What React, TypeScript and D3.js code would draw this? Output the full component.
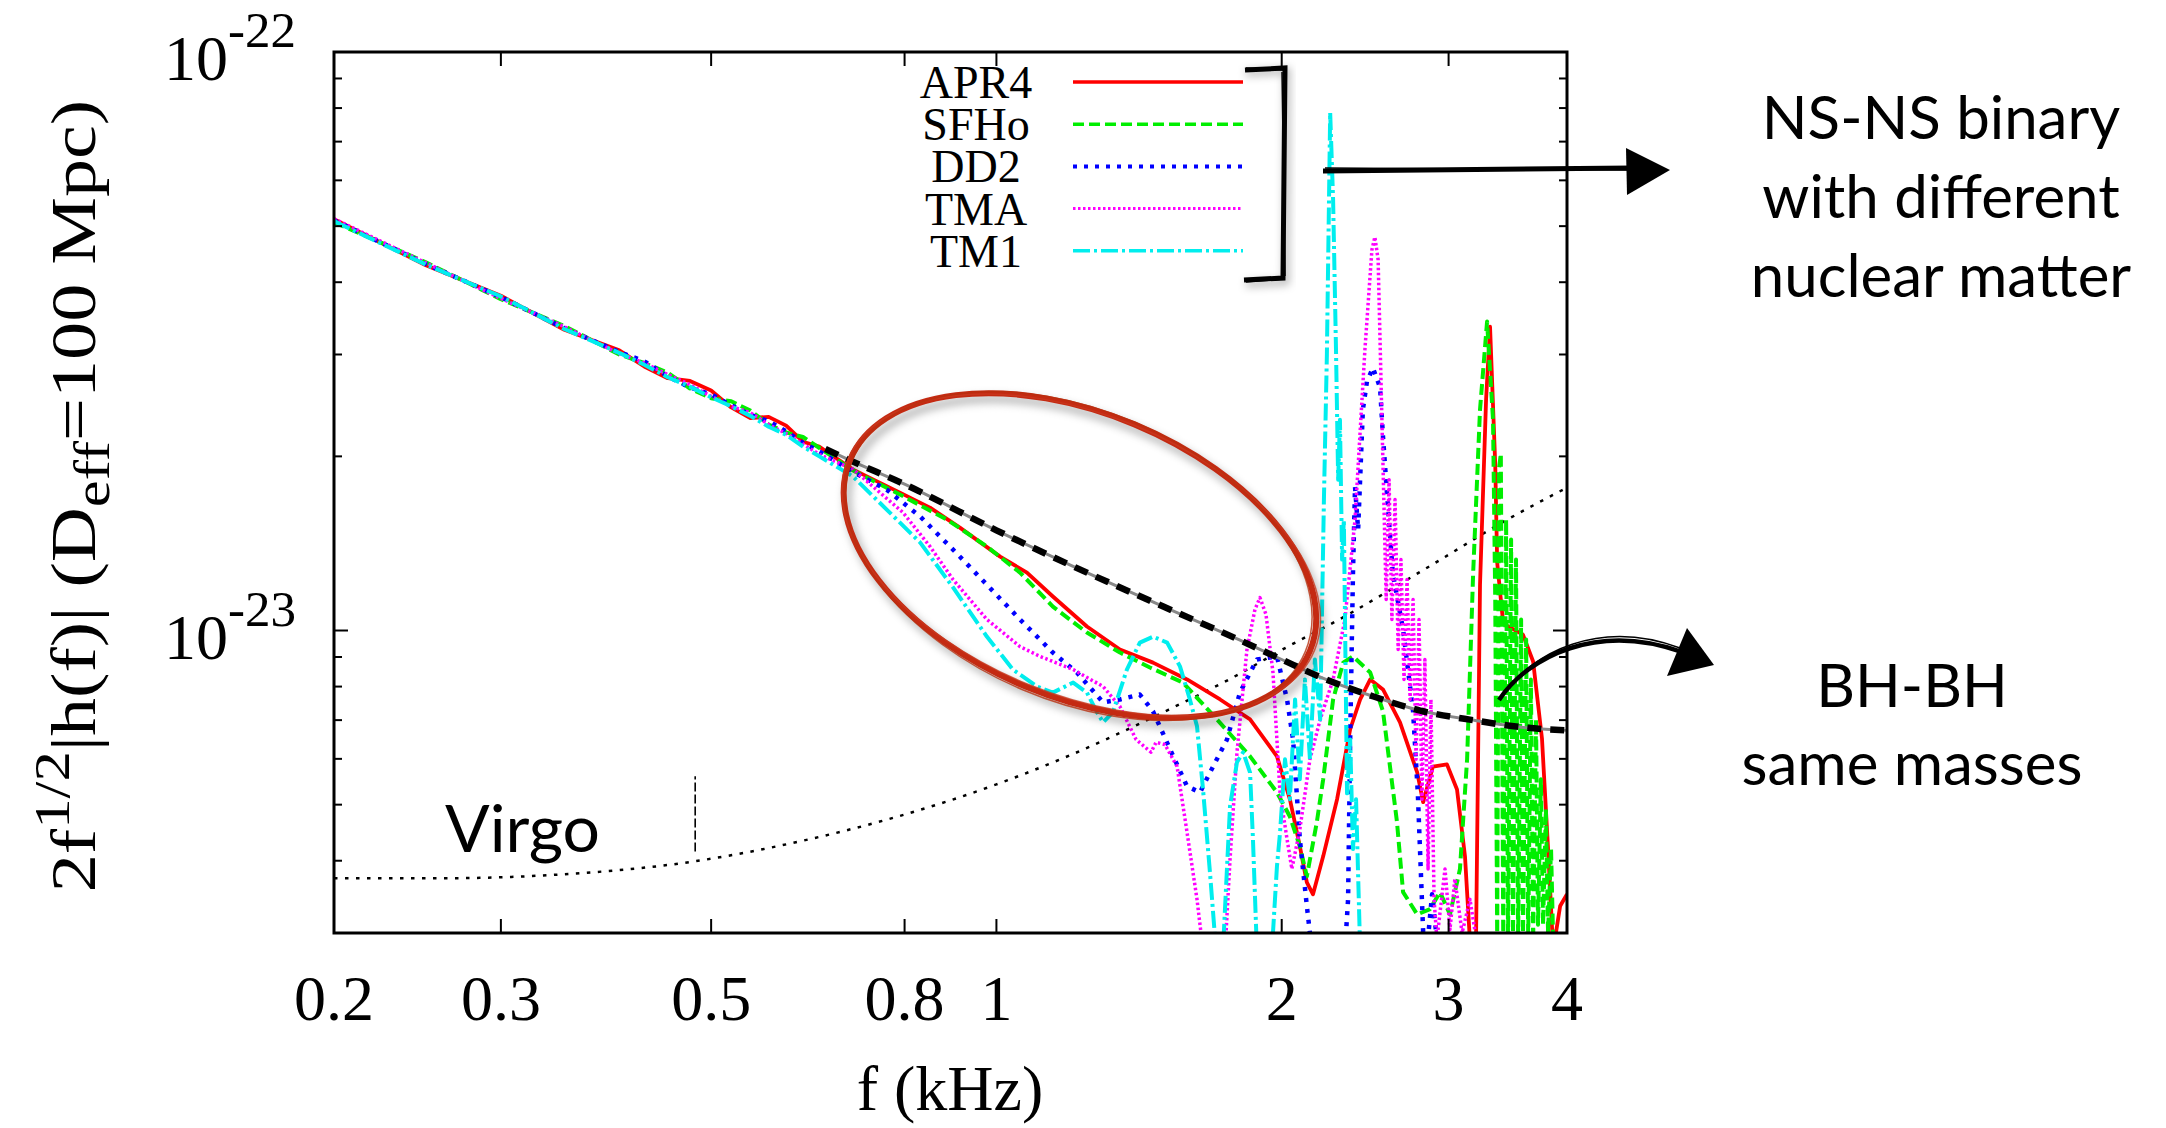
import React from "react";
import * as d3 from "d3";

// ---------------- data (f in kHz, amplitude in units of 1e-23) ----------------
const xTickValues = [0.2, 0.3, 0.5, 0.8, 1, 2, 3, 4];
const xTickLabels = ["0.2", "0.3", "0.5", "0.8", "1", "2", "3", "4"];
const yMajorTicks = [10, 1];
const yMajorExponents = ["-22", "-23"];
const yMinorTicks = [9, 8, 7, 6, 5, 4, 3, 2, 0.9, 0.8, 0.7, 0.6, 0.5, 0.4];

const seriesNames = ["APR4", "SFHo", "DD2", "TMA", "TM1"];

const APR4: [number, number][] = [
  [0.2, 5.14], [0.25, 4.28], [0.3, 3.79], [0.35, 3.31], [0.4, 3.05], [0.425, 2.86], [0.45, 2.73], [0.475, 2.7], [0.5, 2.6],
  [0.525, 2.43], [0.55, 2.33], [0.575, 2.34], [0.6, 2.26], [0.625, 2.12], [0.65, 2.08],
  [0.706, 1.897], [0.791, 1.731], [0.851, 1.631], [0.915, 1.506], [1.009, 1.342], [1.077, 1.259], [1.147, 1.145], [1.246, 1.016],
  [1.35, 0.927], [1.463, 0.88], [1.589, 0.823], [1.722, 0.76], [1.852, 0.702], [1.977, 0.606], [2.04, 0.511], [2.09, 0.424],
  [2.126, 0.367], [2.158, 0.35], [2.212, 0.407], [2.288, 0.511], [2.362, 0.675], [2.42, 0.76], [2.48, 0.823], [2.558, 0.791],
  [2.666, 0.694], [2.78, 0.568], [2.82, 0.505], [2.888, 0.582], [2.988, 0.587], [3.062, 0.531], [3.122, 0.407], [3.16, 0.29],
  [3.206, 0.28], [3.238, 1.2], [3.286, 2.505], [3.318, 3.35], [3.36, 1.935], [3.376, 1.31], [3.426, 1.028], [3.594, 0.984],
  [3.684, 0.884], [3.764, 0.651], [3.82, 0.42], [3.868, 0.28], [3.934, 0.334], [4.0, 0.35],
];

const SFHo: [number, number][] = [
  [0.2, 5.08], [0.25, 4.33], [0.3, 3.74], [0.35, 3.36], [0.4, 3.0], [0.425, 2.9], [0.45, 2.79], [0.475, 2.62], [0.5, 2.52],
  [0.525, 2.49], [0.55, 2.4], [0.575, 2.27], [0.6, 2.2], [0.625, 2.16], [0.65, 2.07],
  [0.706, 1.89], [0.791, 1.718], [0.887, 1.555], [0.977, 1.397], [1.059, 1.259], [1.147, 1.1], [1.246, 0.992], [1.35, 0.916],
  [1.452, 0.863], [1.573, 0.813], [1.709, 0.702], [1.852, 0.606], [1.977, 0.525], [2.04, 0.477], [2.09, 0.424], [2.126, 0.376],
  [2.178, 0.466], [2.212, 0.553], [2.266, 0.76], [2.322, 0.88], [2.378, 0.902], [2.48, 0.846], [2.558, 0.725], [2.646, 0.468],
  [2.686, 0.353], [2.78, 0.323], [2.868, 0.33], [2.938, 0.353], [3.01, 0.323], [3.084, 0.387], [3.138, 0.599], [3.184, 1.249],
  [3.238, 2.409], [3.294, 3.42], [3.342, 2.314], [3.36, 1.131], [3.376, 0.29], [3.39, 1.897], [3.406, 2.022], [3.426, 0.29],
  [3.45, 1.555], [3.466, 0.29], [3.492, 1.436], [3.508, 0.29], [3.534, 1.326], [3.552, 0.29], [3.578, 1.045], [3.594, 0.29],
  [3.622, 0.965], [3.64, 0.29], [3.664, 0.823], [3.684, 0.29], [3.71, 0.702], [3.728, 0.31], [3.754, 0.553], [3.774, 0.31],
  [3.8, 0.491], [3.82, 0.3], [3.848, 0.419], [3.868, 0.29], [3.894, 0.28],
];

const DD2: [number, number][] = [
  [0.2, 5.12], [0.25, 4.3], [0.3, 3.77], [0.35, 3.33], [0.4, 3.03], [0.425, 2.92], [0.45, 2.75], [0.475, 2.63], [0.5, 2.56],
  [0.525, 2.45], [0.55, 2.36], [0.575, 2.3], [0.6, 2.21], [0.625, 2.11], [0.651, 2.038],
  [0.706, 1.88], [0.766, 1.752], [0.831, 1.574], [0.9, 1.38], [0.977, 1.2], [1.059, 1.045], [1.147, 0.916], [1.216, 0.846],
  [1.296, 0.751], [1.35, 0.76], [1.417, 0.775], [1.463, 0.725], [1.525, 0.623], [1.589, 0.538], [1.64, 0.525], [1.68, 0.568],
  [1.751, 0.648], [1.807, 0.781], [1.883, 0.891], [1.977, 0.902], [2.026, 0.76], [2.056, 0.648], [2.09, 0.436], [2.126, 0.334],
  [2.152, 0.28], [2.332, 0.28], [2.35, 0.343], [2.362, 0.651], [2.378, 1.254], [2.39, 1.773], [2.408, 1.494], [2.436, 2.409],
  [2.46, 2.692], [2.496, 2.845], [2.54, 2.629], [2.558, 2.163], [2.582, 1.739], [2.62, 1.254], [2.686, 1.004], [2.752, 0.725],
  [2.784, 0.523], [2.82, 0.302], [2.846, 0.28], [2.882, 0.35], [2.924, 0.28],
];

const TMA: [number, number][] = [
  [0.2, 5.15], [0.25, 4.32], [0.3, 3.75], [0.35, 3.35], [0.4, 3.01], [0.425, 2.9], [0.45, 2.77], [0.475, 2.66], [0.5, 2.54],
  [0.525, 2.44], [0.55, 2.38], [0.575, 2.27], [0.6, 2.19], [0.625, 2.1], [0.651, 2.014],
  [0.706, 1.9], [0.741, 1.773], [0.797, 1.599], [0.851, 1.397], [0.9, 1.225], [0.977, 1.045], [1.059, 0.938], [1.112, 0.902],
  [1.205, 0.856], [1.296, 0.8], [1.35, 0.739], [1.404, 0.648], [1.456, 0.616], [1.474, 0.641], [1.506, 0.635], [1.551, 0.582],
  [1.589, 0.448], [1.628, 0.343], [1.652, 0.28], [1.743, 0.28], [1.764, 0.402], [1.794, 0.616], [1.838, 0.927], [1.874, 1.087],
  [1.897, 1.14], [1.925, 1.066], [1.958, 0.846], [1.992, 0.523], [2.026, 0.436], [2.05, 0.387], [2.09, 0.453], [2.142, 0.599],
  [2.196, 0.702], [2.266, 0.823], [2.332, 1.045], [2.39, 1.555], [2.448, 3.057], [2.49, 4.55], [2.508, 4.79], [2.528, 4.373],
  [2.558, 1.935], [2.578, 1.131], [2.596, 1.823], [2.614, 1.045], [2.634, 1.684], [2.654, 0.927], [2.672, 1.326], [2.692, 0.823],
  [2.712, 1.225], [2.732, 0.76], [2.752, 1.131], [2.772, 0.599], [2.792, 1.045], [2.812, 0.511], [2.832, 0.891], [2.854, 0.387],
  [2.874, 0.76], [2.896, 0.343], [2.916, 0.292], [2.974, 0.387], [3.01, 0.304], [3.046, 0.372], [3.1, 0.3], [3.16, 0.343], [3.222, 0.28],
];

const TM1: [number, number][] = [
  [0.2, 5.1], [0.25, 4.29], [0.3, 3.78], [0.35, 3.32], [0.4, 3.02], [0.425, 2.88], [0.45, 2.74], [0.475, 2.64], [0.5, 2.53],
  [0.525, 2.44], [0.55, 2.35], [0.575, 2.25], [0.6, 2.18], [0.625, 2.08], [0.651, 1.998],
  [0.706, 1.845], [0.766, 1.618], [0.831, 1.419], [0.9, 1.187], [0.977, 0.976], [1.041, 0.856], [1.104, 0.8], [1.147, 0.781],
  [1.205, 0.813], [1.246, 0.781], [1.277, 0.722], [1.296, 0.694], [1.327, 0.722], [1.373, 0.856], [1.417, 0.953], [1.463, 0.976],
  [1.514, 0.953], [1.562, 0.867], [1.6, 0.76], [1.628, 0.683], [1.652, 0.531], [1.68, 0.382], [1.705, 0.28], [1.734, 0.28],
  [1.764, 0.497], [1.794, 0.592], [1.821, 0.616], [1.852, 0.568], [1.865, 0.436], [1.883, 0.28], [1.953, 0.28], [1.977, 0.391],
  [1.992, 0.448], [2.016, 0.599], [2.04, 0.511], [2.066, 0.76], [2.09, 0.553], [2.116, 0.823], [2.142, 0.599], [2.168, 0.891],
  [2.196, 0.702], [2.216, 1.684], [2.232, 2.998], [2.25, 7.85], [2.266, 5.55], [2.282, 3.057], [2.294, 1.823], [2.304, 2.314],
  [2.316, 1.326], [2.326, 1.555], [2.344, 0.523], [2.362, 0.648], [2.378, 0.419], [2.396, 0.511], [2.42, 0.28],
];

const BHBH: [number, number][] = [
  [0.66, 2.06], [0.7, 1.97], [0.8, 1.79], [1.0, 1.49], [1.2, 1.295], [1.5, 1.1], [1.8, 0.965], [2.0, 0.891],
  [2.2, 0.83], [2.5, 0.769], [2.8, 0.727], [3.2, 0.699], [3.6, 0.68], [4.0, 0.672],
];

const VIRGO: [number, number][] = [
  [0.2, 0.373], [0.26, 0.373], [0.34, 0.378], [0.48, 0.399], [0.62, 0.432], [0.78, 0.475], [1.0, 0.542], [1.18, 0.603],
  [1.52, 0.73], [1.76, 0.823], [2.03, 0.938], [2.3, 1.045], [2.85, 1.285], [3.46, 1.555], [4.0, 1.766],
];

const virgoMarkerF = 0.481;
const virgoMarkerRange = [0.415, 0.56];
const ellipseCenter = [1.225, 1.348]; // f, amplitude

// ---------------- layout ----------------
const W = 2166;
const H = 1128;
const PL = 334, PR = 1567, PT = 52, PB = 933;

const styles: Record<string, { color: string; width: number; dash?: string }> = {
  APR4: { color: "#ff0000", width: 3.8 },
  SFHo: { color: "#00ee00", width: 4, dash: "11 5" },
  DD2: { color: "#0000ff", width: 4.5, dash: "4 7" },
  TMA: { color: "#ff00ff", width: 3.5, dash: "2.5 2.5" },
  TM1: { color: "#00eeee", width: 4, dash: "17 4 3 4" },
};
const seriesData: Record<string, [number, number][]> = { APR4, SFHo, DD2, TMA, TM1 };

const serif = "'Liberation Serif', 'Times New Roman', serif";
const sans = "Lato, 'Open Sans', sans-serif";

export default function App() {
  const x = d3.scaleLog().domain([0.2, 4]).range([PL, PR]);
  const y = d3.scaleLog().domain([0.3, 10]).range([PB, PT]);
  const line = d3
    .line<[number, number]>()
    .x((d) => x(d[0]))
    .y((d) => y(Math.max(d[1], 0.25)));
  const smooth = d3
    .line<[number, number]>()
    .x((d) => x(d[0]))
    .y((d) => y(d[1]))
    .curve(d3.curveMonotoneX);

  const ecx = x(ellipseCenter[0]);
  const ecy = y(ellipseCenter[1]);

  return (
    <svg
      width={W}
      height={H}
      style={{ position: "absolute", left: 0, top: 0, display: "block", background: "#fff" }}
    >
      <defs>
        <clipPath id="plotclip">
          <rect x={PL} y={PT} width={PR - PL} height={PB - PT} />
        </clipPath>
        <filter id="shadow" x="-20%" y="-20%" width="140%" height="140%">
          <feGaussianBlur stdDeviation="4" />
        </filter>
      </defs>
      <rect x={0} y={0} width={W} height={H} fill="#fff" />

      {/* data */}
      <g clipPath="url(#plotclip)">
        <path d={smooth(VIRGO) || ""} fill="none" stroke="#000" strokeWidth={2.5} strokeDasharray="3.5 7.5" />
        <line
          x1={x(virgoMarkerF)}
          x2={x(virgoMarkerF)}
          y1={y(virgoMarkerRange[0])}
          y2={y(virgoMarkerRange[1])}
          stroke="#000"
          strokeWidth={1.6}
          strokeDasharray="9 3"
        />
        {seriesNames.map((n) => (
          <path
            key={n}
            d={line(seriesData[n]) || ""}
            fill="none"
            stroke={styles[n].color}
            strokeWidth={styles[n].width}
            strokeDasharray={styles[n].dash}
            strokeLinejoin="round"
          />
        ))}
        <path d={smooth(BHBH) || ""} fill="none" stroke="#888" strokeWidth={3} />
        <path d={smooth(BHBH) || ""} fill="none" stroke="#000" strokeWidth={6.5} strokeDasharray="14 9" />
      </g>

      {/* frame */}
      <rect x={PL} y={PT} width={PR - PL} height={PB - PT} fill="none" stroke="#000" strokeWidth={3} />

      {/* x ticks */}
      {xTickValues.map((v, i) => (
        <g key={"xt" + i}>
          <line x1={x(v)} x2={x(v)} y1={PB} y2={PB - 14} stroke="#000" strokeWidth={2} />
          <line x1={x(v)} x2={x(v)} y1={PT} y2={PT + 14} stroke="#000" strokeWidth={2} />
          <text x={x(v)} y={1020} textAnchor="middle" fontFamily={serif} fontSize={64}>
            {xTickLabels[i]}
          </text>
        </g>
      ))}

      {/* y ticks */}
      {yMajorTicks.map((v, i) => (
        <g key={"ym" + i}>
          <line x1={PL} x2={PL + 14} y1={y(v)} y2={y(v)} stroke="#000" strokeWidth={2} />
          <line x1={PR} x2={PR - 14} y1={y(v)} y2={y(v)} stroke="#000" strokeWidth={2} />
          <text x={296} y={y(v) + 28} textAnchor="end" fontFamily={serif} fontSize={64}>
            10
            <tspan dy={-33} fontSize={51}>
              {yMajorExponents[i]}
            </tspan>
          </text>
        </g>
      ))}
      {yMinorTicks.map((v, i) => (
        <g key={"yn" + i}>
          <line x1={PL} x2={PL + 8} y1={y(v)} y2={y(v)} stroke="#000" strokeWidth={2} />
          <line x1={PR} x2={PR - 8} y1={y(v)} y2={y(v)} stroke="#000" strokeWidth={2} />
        </g>
      ))}

      {/* axis labels */}
      <text x={950} y={1110} textAnchor="middle" fontFamily={serif} fontSize={64}>
        f (kHz)
      </text>
      <text
        transform="translate(95,496) rotate(-90) scale(1.19,1)"
        textAnchor="middle"
        fontFamily={serif}
        fontSize={64}
      >
        {"2f"}
        <tspan dy={-26} fontSize={51}>
          {"1/2"}
        </tspan>
        <tspan dy={26}>{"|h(f)| (D"}</tspan>
        <tspan dy={14} fontSize={51}>
          {"eff"}
        </tspan>
        <tspan dy={-14}>{"=100 Mpc)"}</tspan>
      </text>

      {/* legend */}
      {seriesNames.map((n, i) => (
        <g key={"lg" + n}>
          <text x={976} y={98 + 42.2 * i} textAnchor="middle" fontFamily={serif} fontSize={46}>
            {n}
          </text>
          <line
            x1={1073}
            x2={1243}
            y1={82 + 42.2 * i}
            y2={82 + 42.2 * i}
            stroke={styles[n].color}
            strokeWidth={styles[n].width - 0.5}
            strokeDasharray={styles[n].dash}
          />
        </g>
      ))}

      {/* ellipse annotation */}
      <g>
        <ellipse
          cx={ecx + 4}
          cy={ecy + 6}
          rx={249}
          ry={142}
          transform={`rotate(22.6 ${ecx + 4} ${ecy + 6})`}
          fill="none"
          stroke="rgba(0,0,0,0.3)"
          strokeWidth={7}
          filter="url(#shadow)"
        />
        <ellipse cx={ecx} cy={ecy} rx={249} ry={142} transform={`rotate(22.6 ${ecx} ${ecy})`} fill="none" stroke="#c42a12" strokeWidth={6} />
        <ellipse cx={ecx + 1} cy={ecy - 1} rx={252} ry={140} transform={`rotate(22.2 ${ecx} ${ecy})`} fill="none" stroke="#c8381e" strokeWidth={1.5} opacity={0.8} />
        <ellipse cx={ecx - 1} cy={ecy + 1} rx={246} ry={145} transform={`rotate(23.0 ${ecx} ${ecy})`} fill="none" stroke="#b8300f" strokeWidth={1.5} opacity={0.8} />
      </g>

      {/* bracket + straight arrow */}
      <g>
        <path d="M1246,73 L1287,71 L1286,282 L1246,284" fill="none" stroke="rgba(0,0,0,0.3)" strokeWidth={6} filter="url(#shadow)" />
        <path d="M1245,70 L1285,68 L1283,278 L1244,280" fill="none" stroke="#000" strokeWidth={5} />
        <path d="M1246,68 L1284,70 M1282,72 L1285,276 M1246,282 L1284,279" fill="none" stroke="#000" strokeWidth={1.5} />
        <path d="M1323,171 L1632,168" fill="none" stroke="#000" strokeWidth={5} />
        <path d="M1325,168 L1630,170" fill="none" stroke="#000" strokeWidth={1.5} />
        <polygon points="1626,148 1670,170 1627,195" fill="#000" />
      </g>

      {/* curved arrow */}
      <g>
        <path d="M1499,700 C1528,656 1598,622 1682,652" fill="none" stroke="#000" strokeWidth={4.5} />
        <path d="M1502,696 C1532,652 1600,618 1680,648" fill="none" stroke="#000" strokeWidth={1.5} />
        <polygon points="1667,676 1687,628 1714,665" fill="#000" />
      </g>

      {/* annotation text */}
      <text x={445} y={852} fontFamily={sans} fontSize={66}>
        Virgo
      </text>
      <g fontFamily={sans} fontSize={60} textAnchor="middle" fill="#000">
        <text x={1941} y={139}>NS-NS binary</text>
        <text x={1941} y={218}>with different</text>
        <text x={1941} y={297}>nuclear matter</text>
        <text x={1912} y={707}>BH-BH</text>
        <text x={1912} y={785}>same masses</text>
      </g>
    </svg>
  );
}
